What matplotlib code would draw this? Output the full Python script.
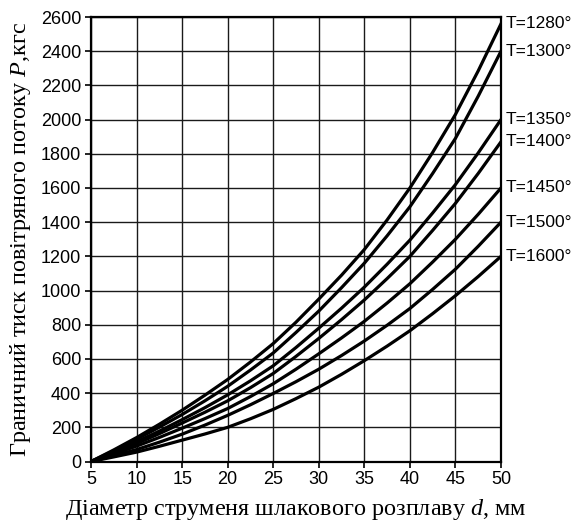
import numpy as np
import matplotlib
matplotlib.use('Agg')
import matplotlib.pyplot as plt

plt.rcParams['font.family'] = ['Liberation Sans', 'DejaVu Sans']
plt.rcParams['mathtext.fontset'] = 'custom'
plt.rcParams['mathtext.rm'] = 'Liberation Serif'
plt.rcParams['mathtext.it'] = 'Liberation Serif:italic'

# diameter of the slag stream, mm
diameter = [5, 7.5, 10, 12.5, 15, 17.5, 20, 22.5, 25, 27.5,
            30, 32.5, 35, 37.5, 40, 42.5, 45, 47.5, 50]

# limiting air pressure P for each melt temperature
temperatures = [1280, 1300, 1350, 1400, 1450, 1500, 1600]
p_1280 = [0, 68, 140, 218, 300, 388, 480, 582, 690, 815,
          950, 1090, 1240, 1413, 1600, 1808, 2030, 2285, 2560]
p_1300 = [0, 63, 130, 201, 275, 355, 440, 535, 635, 755,
          880, 1017, 1160, 1320, 1490, 1685, 1890, 2137, 2400]
p_1350 = [0, 56, 115, 178, 245, 315, 390, 472, 560, 667,
          780, 897, 1020, 1154, 1295, 1454, 1620, 1805, 2000]
p_1400 = [0, 51, 105, 163, 225, 288, 355, 432, 515, 615,
          720, 830, 945, 1070, 1200, 1352, 1510, 1685, 1870]
p_1450 = [0, 44, 90, 141, 195, 251, 310, 380, 455, 540,
          630, 723, 820, 927, 1040, 1167, 1300, 1446, 1600]
p_1500 = [0, 34, 70, 113, 160, 213, 270, 332, 398, 467,
          540, 620, 705, 797, 895, 1007, 1125, 1259, 1400]
p_1600 = [0, 27, 55, 89, 125, 161, 200, 250, 305, 368,
          435, 510, 590, 675, 765, 865, 970, 1082, 1200]
pressures = [p_1280, p_1300, p_1350, p_1400, p_1450, p_1500, p_1600]

fig = plt.figure(figsize=(5.82, 5.30), dpi=100)
ax = fig.add_axes([0.1564, 0.1292, 0.7044, 0.8387])

for t, p in zip(temperatures, pressures):
    ax.plot(diameter, p, color='black', lw=2.3, solid_joinstyle='round', zorder=3)
    ax.text(1.012, p[-1], f'T={t}°', transform=ax.get_yaxis_transform(),
            ha='left', va='center', fontsize=12.5, clip_on=False)

ax.set_xlim(5, 50)
ax.set_ylim(0, 2600)
ax.set_xticks(np.arange(5, 51, 5))
ax.set_yticks(np.arange(0, 2601, 200))
ax.grid(True, color='#1a1a1a', lw=1.0)
ax.set_axisbelow(True)
for s in ax.spines.values():
    s.set_linewidth(1.6)
    s.set_color('black')
ax.tick_params(direction='out', length=4, width=1.2, labelsize=13, pad=3)

ax.set_ylabel('Граничний тиск повітряного потоку $\\mathit{P}$,кгс',
              fontfamily='Liberation Serif', fontsize=17.5, labelpad=6)
ax.set_xlabel('Діаметр струменя шлакового розплаву $\\mathit{d}$, мм',
              fontfamily='Liberation Serif', fontsize=17.4, labelpad=6)

fig.savefig('out.png', dpi=100)
